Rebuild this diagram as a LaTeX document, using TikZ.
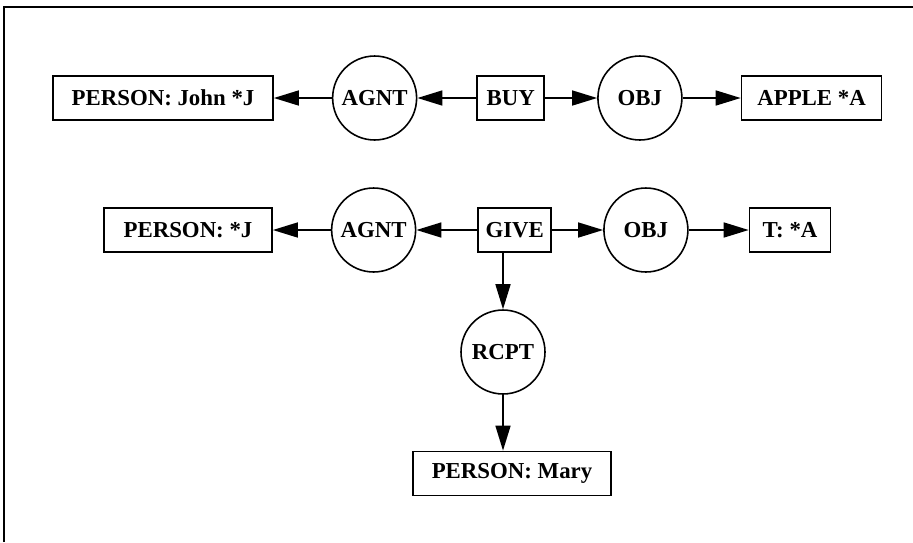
\documentclass[tikz,border=0pt]{standalone}
\usepackage{fontspec}
\setmainfont{Liberation Serif}
\usepackage{tikz}
\usetikzlibrary{shapes.geometric, arrows.meta, positioning}

\begin{document}
\begin{tikzpicture}[x=0.02cm, y=-0.02cm]
\tikzstyle{concept} = [rectangle, draw, line width=1pt, minimum height=0.88cm, inner sep=0pt, font=\fontsize{13}{15}\selectfont\bfseries]
\tikzstyle{relation} = [circle, draw, line width=0.9pt, minimum size=1.68cm, inner sep=0pt, font=\fontsize{13}{15}\selectfont\bfseries]
\tikzstyle{arrow} = [line width=0.9pt, -{Triangle[length=0.5cm, width=0.3cm]}]

\useasboundingbox (0,0) rectangle (913,542);
\draw[line width=1pt] (4,542) -- (4,7) -- (913,7);

% John buys an apple
\node (john) [concept, minimum width=4.4cm] at (163,98) {PERSON: John *J};
\node (agnt1) [relation, right=1.16cm of john] {AGNT};
\node (buy) [concept, minimum width=1.34cm, right=1.18cm of agnt1] {BUY};
\node (obj1) [relation, right=1.04cm of buy] {OBJ};
\node (apple) [concept, minimum width=2.8cm, right=1.16cm of obj1] {APPLE *A};

\draw [arrow] (buy) -- (agnt1);
\draw [arrow] (agnt1) -- (john);
\draw [arrow] (buy) -- (obj1);
\draw [arrow] (obj1) -- (apple);

% he gives it to Mary
\node (pj) [concept, minimum width=3.36cm] at (188,230) {PERSON: *J};
\node (agnt2) [relation, right=1.16cm of pj] {AGNT};
\node (give) [concept, minimum width=1.46cm, right=1.22cm of agnt2] {GIVE};
\node (obj2) [relation, right=1.02cm of give] {OBJ};
\node (ta) [concept, minimum width=1.62cm, right=1.2cm of obj2] {T: *A};
\node (rcpt) [relation] at (503,352) {RCPT};
\node (mary) [concept, minimum width=3.96cm] at (512,473.5) {PERSON: Mary};

\draw [arrow] (give) -- (agnt2);
\draw [arrow] (agnt2) -- (pj);
\draw [arrow] (give) -- (obj2);
\draw [arrow] (obj2) -- (ta);
\draw [arrow] (rcpt |- give.south) -- (rcpt.north);
\draw [arrow] (rcpt.south) -- (rcpt |- mary.north);

\end{tikzpicture}
\end{document}
